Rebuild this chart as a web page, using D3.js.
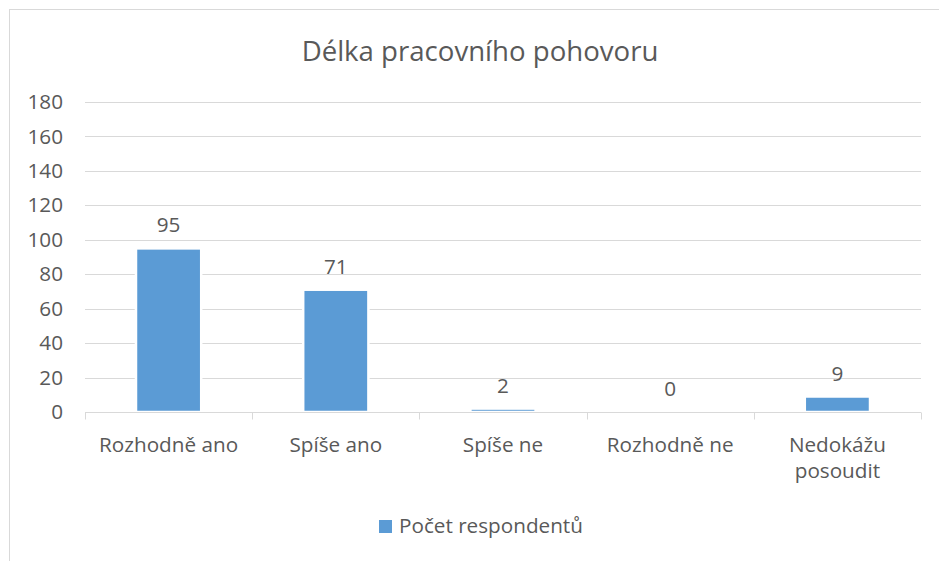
<!DOCTYPE html>
<html>
<head>
<meta charset="utf-8">
<script src="https://cdn.jsdelivr.net/npm/d3@7"></script>
<style>
  body { margin: 0; background: #fff; }
  text { font-family: "Open Sans", sans-serif; fill: #595959; }
</style>
</head>
<body>
<div id="chart"></div>
<script>
(function () {

    var categories = ["Rozhodně ano", "Spíše ano", "Spíše ne", "Rozhodně ne", "Nedokážu posoudit"],
        values = [95, 71, 2, 0, 9],
        yTicks = [0, 20, 40, 60, 80, 100, 120, 140, 160, 180],
        seriesName = "Počet respondentů",
        title = "Délka pracovního pohovoru";

    var width = 939,
        height = 561,
        margin = {top: 102, right: 18, bottom: 149, left: 85},
        barColor = "#5b9bd5",
        gridColor = "#d9d9d9",
        labelSize = "20.7px";

    var svg = d3.select("#chart").append("svg")
        .attr("width", width)
        .attr("height", height);

    // outer frame of the chart
    svg.append("rect")
        .attr("x", 9.5).attr("y", 9.5)
        .attr("width", width).attr("height", height)
        .style("fill", "none")
        .style("stroke", gridColor);

    var x = d3.scaleBand()
        .domain(categories)
        .range([margin.left, width - margin.right])
        .paddingInner(0.61)
        .paddingOuter(0.305);

    var y = d3.scaleLinear()
        .domain([0, 180])
        .range([height - margin.bottom, margin.top]);

    svg.append("text")
        .attr("x", 480)
        .attr("y", 61)
        .attr("text-anchor", "middle")
        .style("font-size", "27.6px")
        .text(title);

    // gridlines
    svg.append("g")
        .selectAll("line")
        .data(yTicks.filter(function (d) { return d > 0; }))
        .enter().append("line")
        .attr("x1", margin.left).attr("x2", width - margin.right)
        .attr("y1", function (d) { return Math.round(y(d)) + 0.5; })
        .attr("y2", function (d) { return Math.round(y(d)) + 0.5; })
        .style("stroke", gridColor)
        .style("stroke-width", 1);

    // y axis labels
    var yAxis = svg.append("g")
        .attr("transform", "translate(" + (margin.left - 22) + ",0)")
        .call(d3.axisLeft(y).tickValues(yTicks).tickSize(0).tickPadding(0));
    yAxis.select(".domain").remove();
    yAxis.selectAll("text")
        .style("font-size", labelSize)
        .style("fill", "#595959")
        .style("font-family", "'Open Sans', sans-serif");

    // bars
    svg.append("g")
        .selectAll("rect")
        .data(values)
        .enter().append("rect")
        .attr("x", function (d, i) { return x(categories[i]); })
        .attr("width", x.bandwidth())
        .attr("y", function (d) { return y(d); })
        .attr("height", function (d) { return y(0) - y(d); })
        .style("fill", barColor)
        .style("stroke", "#fff")
        .style("stroke-width", 2.5);

    // x axis line with ticks between categories
    var base = Math.round(y(0)) + 0.5;
    svg.append("line")
        .attr("x1", margin.left).attr("x2", width - margin.right)
        .attr("y1", base).attr("y2", base)
        .style("stroke", gridColor);
    var step = x.step();
    svg.append("g")
        .selectAll("line")
        .data(d3.range(categories.length + 1))
        .enter().append("line")
        .attr("x1", function (i) { return Math.round(margin.left + i * step) + 0.5; })
        .attr("x2", function (i) { return Math.round(margin.left + i * step) + 0.5; })
        .attr("y1", base).attr("y2", base + 7)
        .style("stroke", gridColor);

    // data labels
    svg.append("g")
        .selectAll("text")
        .data(values)
        .enter().append("text")
        .attr("x", function (d, i) { return x(categories[i]) + x.bandwidth() / 2; })
        .attr("y", function (d) { return y(d) - 16; })
        .attr("text-anchor", "middle")
        .style("font-size", labelSize)
        .text(function (d) { return d; });

    // category labels, wrapped to the band width
    var catG = svg.append("g");
    categories.forEach(function (c, i) {
        var cx = x(c) + x.bandwidth() / 2;
        var t = catG.append("text")
            .attr("x", cx)
            .attr("y", y(0) + 40)
            .attr("text-anchor", "middle")
            .style("font-size", labelSize);
        var words = c.split(" "), line = [],
            tspan = t.append("tspan").attr("x", cx).attr("dy", 0);
        words.forEach(function (w) {
            line.push(w);
            tspan.text(line.join(" "));
            if (tspan.node().getComputedTextLength() > step * 0.92 && line.length > 1) {
                line.pop();
                tspan.text(line.join(" "));
                line = [w];
                tspan = t.append("tspan").attr("x", cx).attr("dy", 26).text(w);
            }
        });
    });

    // legend
    var legend = svg.append("g").attr("transform", "translate(379,520)");
    legend.append("rect")
        .attr("width", 13).attr("height", 13)
        .style("fill", barColor);
    legend.append("text")
        .attr("x", 20).attr("y", 13)
        .style("font-size", labelSize)
        .text(seriesName);

}());
</script>
</body>
</html>
